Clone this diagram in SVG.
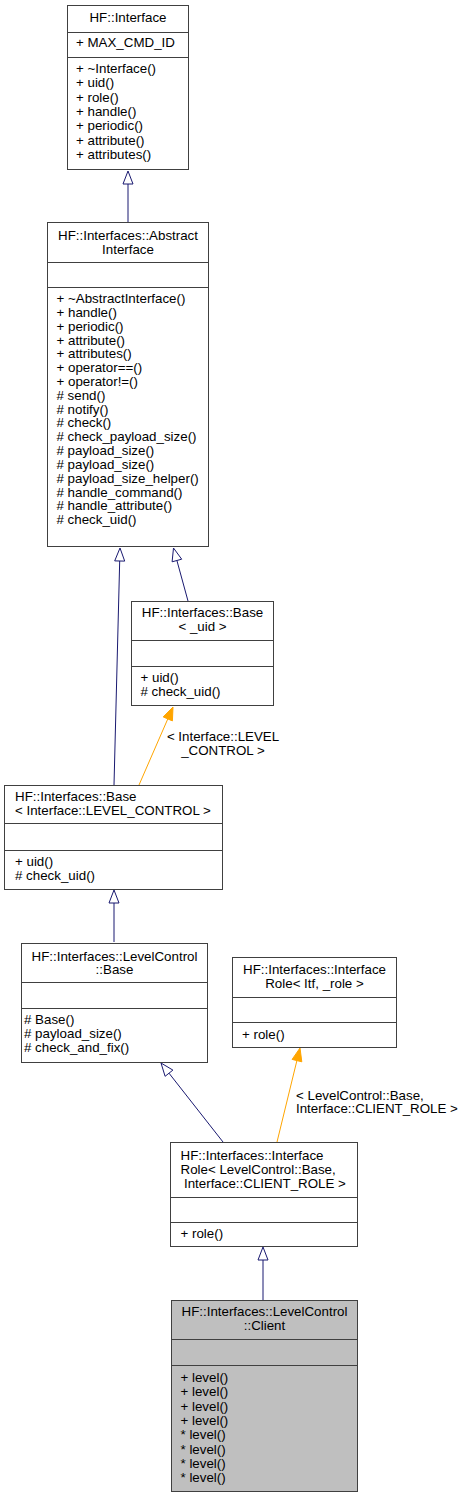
<svg xmlns="http://www.w3.org/2000/svg" width="463" height="1499" viewBox="0 0 463 1499">
<style>
.box{fill:#ffffff;stroke:#404040;stroke-width:1}
.cur{fill:#bfbfbf;stroke:#404040;stroke-width:1}
.sep{stroke:#404040;stroke-width:1}
text{font-family:"Liberation Sans",Arial,Helvetica,sans-serif;font-size:13.33px;fill:#000000}
.c{text-anchor:middle}
.inh{stroke:#191970;stroke-width:1;fill:none}
.inhh{stroke:#191970;stroke-width:1;fill:#ffffff}
.tpl{stroke:#ffa500;stroke-width:1;fill:none}
.tplh{stroke:#ffa500;stroke-width:1;fill:#ffa500}
</style>
<rect x="0" y="0" width="463" height="1499" fill="#ffffff"/>
<g id="connectors">
  <line class="inh" x1="128" y1="222" x2="128" y2="184"/>
  <polygon class="inhh" points="128,171 123,184 133,184"/>
  <line class="inh" x1="188" y1="601" x2="176.9" y2="560.5"/>
  <polygon class="inhh" points="173.5,548 181.7,559.2 172.1,561.8"/>
  <line class="inh" x1="114" y1="785" x2="119.7" y2="561"/>
  <polygon class="inhh" points="120,548 124.7,561.1 114.7,560.9"/>
  <line class="tpl" x1="139" y1="785" x2="167.8" y2="718.9"/>
  <polygon class="tplh" points="173,707 172.4,720.9 163.2,716.9"/>
  <text class="c" x="223" y="741">&lt; Interface::LEVEL</text>
  <text class="c" x="223" y="755">_CONTROL &gt;</text>
  <line class="inh" x1="114" y1="942" x2="114" y2="903"/>
  <polygon class="inhh" points="114,890 109,903 119,903"/>
  <line class="inh" x1="223" y1="1142" x2="169" y2="1073.2"/>
  <polygon class="inhh" points="161,1063 172.9,1070.1 165.1,1076.3"/>
  <line class="tpl" x1="277" y1="1142" x2="296.9" y2="1060.6"/>
  <polygon class="tplh" points="300,1048 301.8,1061.8 292.1,1059.4"/>
  <text x="296" y="1100">&lt; LevelControl::Base,</text>
  <text x="296" y="1113">Interface::CLIENT_ROLE &gt;</text>
  <line class="inh" x1="263" y1="1300" x2="263" y2="1260"/>
  <polygon class="inhh" points="263,1247 258,1260 268,1260"/>
</g>
<g id="node1">
  <rect class="box" x="67.5" y="5.5" width="121" height="164"/>
  <line class="sep" x1="67.5" y1="32.5" x2="188.5" y2="32.5"/>
  <line class="sep" x1="67.5" y1="57.5" x2="188.5" y2="57.5"/>
  <text class="c" x="128" y="22">HF::Interface</text>
  <text x="76" y="47">+ MAX_CMD_ID</text>
  <text x="76" y="73">+ ~Interface()</text>
  <text x="76" y="87.3">+ uid()</text>
  <text x="76" y="101.7">+ role()</text>
  <text x="76" y="116">+ handle()</text>
  <text x="76" y="130.3">+ periodic()</text>
  <text x="76" y="144.7">+ attribute()</text>
  <text x="76" y="159">+ attributes()</text>
</g>
<g id="node2">
  <rect class="box" x="47.5" y="222.5" width="161" height="324"/>
  <line class="sep" x1="47.5" y1="262.5" x2="208.5" y2="262.5"/>
  <line class="sep" x1="47.5" y1="287.5" x2="208.5" y2="287.5"/>
  <text class="c" x="128" y="240">HF::Interfaces::Abstract</text>
  <text class="c" x="128" y="253.5">Interface</text>
  <text x="56.5" y="303">+ ~AbstractInterface()</text>
  <text x="56.5" y="316.8">+ handle()</text>
  <text x="56.5" y="330.6">+ periodic()</text>
  <text x="56.5" y="344.5">+ attribute()</text>
  <text x="56.5" y="358.3">+ attributes()</text>
  <text x="56.5" y="372.1">+ operator==()</text>
  <text x="56.5" y="385.9">+ operator!=()</text>
  <text x="56.5" y="399.7"># send()</text>
  <text x="56.5" y="413.6"># notify()</text>
  <text x="56.5" y="427.4"># check()</text>
  <text x="56.5" y="441.2"># check_payload_size()</text>
  <text x="56.5" y="455"># payload_size()</text>
  <text x="56.5" y="468.8"># payload_size()</text>
  <text x="56.5" y="482.7"># payload_size_helper()</text>
  <text x="56.5" y="496.5"># handle_command()</text>
  <text x="56.5" y="510.3"># handle_attribute()</text>
  <text x="56.5" y="524.1"># check_uid()</text>
</g>
<g id="node3">
  <rect class="box" x="131.5" y="601.5" width="142" height="104"/>
  <line class="sep" x1="131.5" y1="640.5" x2="273.5" y2="640.5"/>
  <line class="sep" x1="131.5" y1="666.5" x2="273.5" y2="666.5"/>
  <text class="c" x="202.5" y="617">HF::Interfaces::Base</text>
  <text class="c" x="202.5" y="631">&lt; _uid &gt;</text>
  <text x="140.5" y="682">+ uid()</text>
  <text x="140.5" y="696"># check_uid()</text>
</g>
<g id="node4">
  <rect class="box" x="4.5" y="785.5" width="218" height="104"/>
  <line class="sep" x1="4.5" y1="823.5" x2="222.5" y2="823.5"/>
  <line class="sep" x1="4.5" y1="850.5" x2="222.5" y2="850.5"/>
  <text x="15" y="801">HF::Interfaces::Base</text>
  <text x="15" y="815">&lt; Interface::LEVEL_CONTROL &gt;</text>
  <text x="15" y="866">+ uid()</text>
  <text x="15" y="880"># check_uid()</text>
</g>
<g id="node5">
  <rect class="box" x="21.5" y="943.5" width="186" height="119"/>
  <line class="sep" x1="21.5" y1="982.5" x2="207.5" y2="982.5"/>
  <line class="sep" x1="21.5" y1="1008.5" x2="207.5" y2="1008.5"/>
  <text class="c" x="114.5" y="960.5">HF::Interfaces::LevelControl</text>
  <text class="c" x="114.5" y="974">::Base</text>
  <text x="24" y="1024"># Base()</text>
  <text x="24" y="1037.8"># payload_size()</text>
  <text x="24" y="1051.6"># check_and_fix()</text>
</g>
<g id="node6">
  <rect class="box" x="232.5" y="957.5" width="164" height="90"/>
  <line class="sep" x1="232.5" y1="997.5" x2="396.5" y2="997.5"/>
  <line class="sep" x1="232.5" y1="1022.5" x2="396.5" y2="1022.5"/>
  <text class="c" x="314.5" y="973.5">HF::Interfaces::Interface</text>
  <text class="c" x="314.5" y="988">Role&lt; Itf, _role &gt;</text>
  <text x="242" y="1038.5">+ role()</text>
</g>
<g id="node7">
  <rect class="box" x="170.5" y="1142.5" width="187" height="104"/>
  <line class="sep" x1="170.5" y1="1197.5" x2="357.5" y2="1197.5"/>
  <line class="sep" x1="170.5" y1="1222.5" x2="357.5" y2="1222.5"/>
  <text x="180.5" y="1159.5">HF::Interfaces::Interface</text>
  <text x="180.5" y="1173.5">Role&lt; LevelControl::Base,</text>
  <text x="184" y="1187.5">Interface::CLIENT_ROLE &gt;</text>
  <text x="180.5" y="1238">+ role()</text>
</g>
<g id="node8">
  <rect class="cur" x="171.5" y="1300.5" width="186" height="191"/>
  <line class="sep" x1="171.5" y1="1339.5" x2="357.5" y2="1339.5"/>
  <line class="sep" x1="171.5" y1="1365.5" x2="357.5" y2="1365.5"/>
  <text class="c" x="264.5" y="1316">HF::Interfaces::LevelControl</text>
  <text class="c" x="264.5" y="1330">::Client</text>
  <text x="180.5" y="1382">+ level()</text>
  <text x="180.5" y="1396.3">+ level()</text>
  <text x="180.5" y="1410.6">+ level()</text>
  <text x="180.5" y="1424.9">+ level()</text>
  <text x="180.5" y="1439.2">* level()</text>
  <text x="180.5" y="1453.5">* level()</text>
  <text x="180.5" y="1467.8">* level()</text>
  <text x="180.5" y="1482.1">* level()</text>
</g>
</svg>
